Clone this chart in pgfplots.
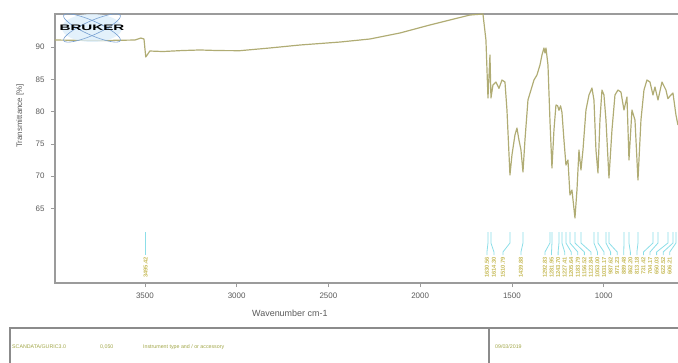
\documentclass[border=0pt]{standalone}
\usepackage{pgfplots}
\pgfplotsset{compat=1.18}
\usepackage{fontspec}
\setmainfont{Liberation Sans}
\usepackage{graphicx}

\definecolor{spec}{RGB}{176,172,116}
\definecolor{peakline}{RGB}{140,222,232}
\definecolor{peaktext}{RGB}{200,188,92}
\definecolor{axgray}{RGB}{155,155,155}
\definecolor{txtgray}{RGB}{90,90,90}
\definecolor{logoblue}{RGB}{120,160,210}
\definecolor{logofill}{RGB}{220,238,250}
\definecolor{infotext}{RGB}{160,165,70}

\begin{document}
\begin{tikzpicture}[x=1bp,y=1bp,
  peaklabel/.style={rotate=90, anchor=east, inner sep=0pt, text=peaktext,
    font=\fontsize{5.8}{6}\selectfont\bfseries}]
\useasboundingbox (0,0) rectangle (678,362);
\clip (0,0) rectangle (678,362);

\begin{axis}[
  at={(55bp,79bp)}, anchor=south west,
  scale only axis, width=623bp, height=269bp,
  x dir=reverse, xmin=595, xmax=3990, ymin=53.47, ymax=95.11,
  axis line style={draw=none},
  xtick={1000,1500,2000,2500,3000,3500},
  ytick={65,70,75,80,85,90},
  xtick pos=bottom, ytick pos=left,
  tick align=outside, major tick length=4bp,
  tick style={axgray, line width=0.8pt},
  tick label style={font=\fontsize{8}{9}\selectfont, text=txtgray},
  xticklabel style={yshift=-2bp},
  yticklabel style={xshift=-3bp},
  /pgf/number format/assume math mode=true,
  /pgf/number format/1000 sep={},
  xlabel={Wavenumber cm-1},
  xlabel style={at={(axis description cs:0.377,-0.1115)}, anchor=center,
    font=\fontsize{9}{10}\selectfont, text=txtgray},
  ylabel={Transmittance [\%]},
  ylabel style={at={(axis description cs:-0.0562,0.621)}, anchor=center,
    font=\fontsize{8}{9}\selectfont, text=txtgray},
  clip mode=individual,
]
% frame: top, left and bottom lines
\draw[axgray, line width=1.1pt] (rel axis cs:1.01,1) -- (rel axis cs:0,1)
  -- (rel axis cs:0,0) -- (rel axis cs:1.01,0);

% transmittance spectrum
\addplot[spec, line width=1.2pt, line join=round] table {
wn T
3990 91.08
3745 91.00
3555 91.08
3522 91.39
3505 91.24
3495.42 88.45
3473 89.38
3402 89.30
3300 89.45
3200 89.54
3100 89.45
2982 89.43
2819 89.85
2655 90.31
2437 90.77
2274 91.24
2110 92.17
1947 93.41
1838 94.18
1729 94.95
1657.9 95.11
1641.6 91.08
1630.56 82.11
1619.7 88.76
1614.30 82.11
1603.4 84.12
1587.0 84.58
1570.7 83.60
1554.3 84.89
1538.0 84.58
1527.1 80.25
1510.79 70.19
1499.9 73.28
1483.5 76.38
1472.6 77.46
1461.7 75.60
1450.8 74.06
1439.88 70.65
1429.0 75.60
1412.6 81.80
1396.3 83.34
1379.9 84.89
1363.6 85.67
1347.3 87.21
1336.4 88.76
1325.4 89.85
1320.0 89.07
1314.5 89.85
1303.6 87.21
1292.83 78.70
1281.95 71.27
1271.0 77.15
1260.1 81.02
1251.0 80.90
1243.70 80.20
1235.0 80.90
1227.41 79.90
1216.5 75.60
1205.64 71.73
1194.7 72.51
1183.79 67.09
1172.9 67.86
1156.52 63.53
1145.6 67.86
1134.7 74.06
1123.84 70.96
1112.9 74.06
1096.6 80.25
1080.2 82.57
1063.9 83.65
1053.00 81.80
1042.1 74.06
1031.17 70.50
1020.3 78.70
1009.4 83.34
998.5 82.57
987.62 78.70
971.23 69.72
954.9 77.15
938.5 82.57
922.2 83.34
905.8 83.03
889.48 80.25
873.1 82.26
862.20 72.51
845.9 80.25
829.5 78.70
813.18 69.41
796.9 78.70
780.5 83.34
764.2 84.89
747.8 84.58
731.42 82.57
720.5 83.81
704.17 81.80
682.4 84.58
660.7 83.34
650.03 82.00
638.9 82.40
622.52 82.88
606.21 79.48
595.3 77.93
};

% peak picks: position / label position
\foreach \p/\l in {3495.42/3495.42,
  1630.56/1636.1, 1614.30/1598.0, 1510.79/1548.9, 1439.88/1450.8,
  1292.83/1320.0, 1281.95/1284.2, 1243.70/1248.4, 1227.41/1212.6,
  1205.64/1176.8, 1183.79/1141.1, 1156.52/1105.3, 1123.84/1069.5,
  1053.00/1033.7, 1031.17/997.9, 987.62/962.1, 971.23/926.3,
  889.48/890.5, 862.20/854.7, 813.18/818.9, 731.42/783.2,
  704.17/747.4, 650.03/711.6, 622.52/675.8, 606.21/640.0} {
  \edef\temp{\noexpand\draw[peakline, line width=0.8pt]
      (axis cs:\p,61.36) -- (axis cs:\p,59.66) -- (axis cs:\l,58.27)
      -- (axis cs:\l,57.80);
    \noexpand\node[peaklabel] at (axis cs:\l,57.55) {\p};}
  \temp
}
\end{axis}

% logo
\begin{scope}[shift={(92,334)}]
  \fill[logofill, opacity=0.8] (0,0) ellipse [x radius=30, y radius=14];
  \draw[logoblue, line width=0.6pt, rotate=24] (0,0) ellipse [x radius=31, y radius=7];
  \draw[logoblue, line width=0.6pt, rotate=-24] (0,0) ellipse [x radius=31, y radius=7];
  \node[inner sep=0pt] at (0,0)
    {\scalebox{1.9}[1]{\fontsize{8}{8}\selectfont\bfseries BRUKER}};
\end{scope}

% information block
\draw[axgray!90!black, line width=1.4pt] (10,-5) -- (10,34) -- (690,34);
\draw[axgray!90!black, line width=1.4pt] (489,34) -- (489,-5);
\begin{scope}[every node/.style={anchor=west, inner sep=0pt, text=infotext,
    font=\fontsize{5.3}{6}\selectfont}]
  \node at (12,15) {SCANDATA/GURIC3.0};
  \node at (100,15) {0,050};
  \node at (143,15) {Instrument type and / or accessory};
  \node at (495,15) {09/03/2019};
\end{scope}
\end{tikzpicture}
\end{document}
